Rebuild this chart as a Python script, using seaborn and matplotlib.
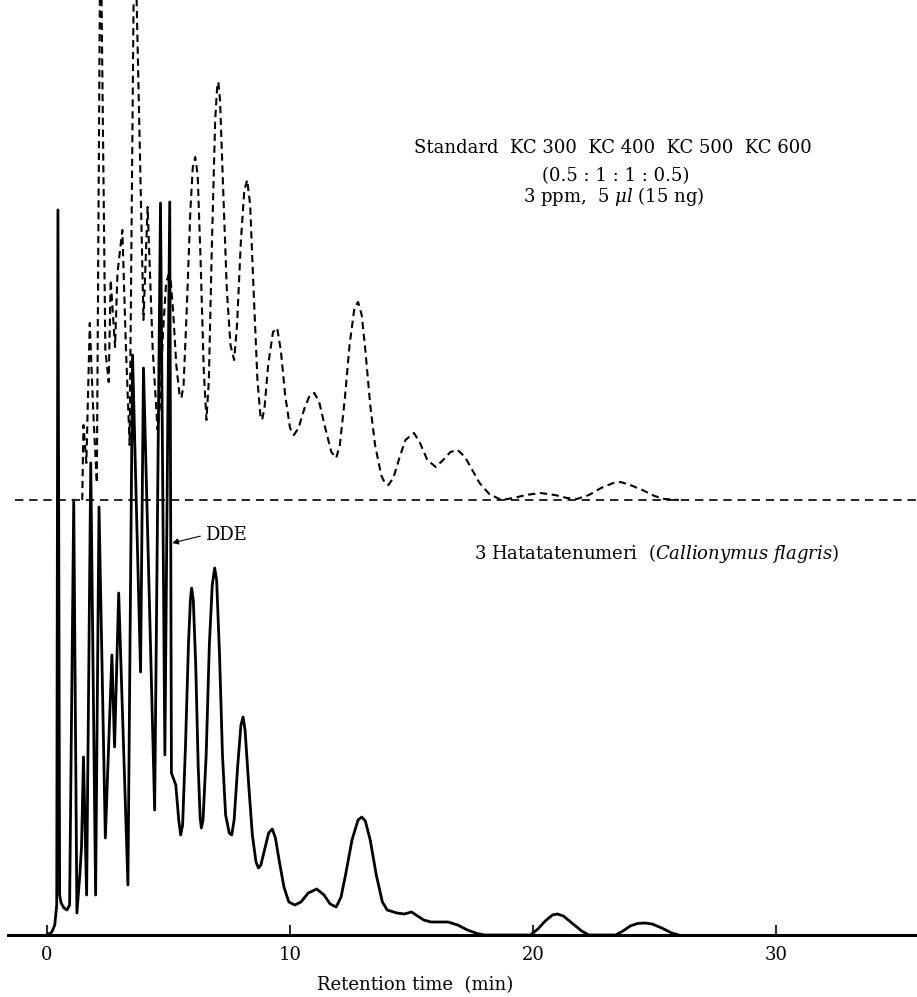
import matplotlib
matplotlib.use("Agg")
import matplotlib.pyplot as plt
import pandas as pd
import seaborn as sns


# ----------------------------------
# Data
# (response in arbitrary units, retention time in min)
# ----------------------------------

# sample: 3 Hatatatenumeri, solid trace
sample_time = [
    0.0, 0.2, 0.32, 0.40, 0.45, 0.52, 0.58, 0.7, 0.82, 0.93,
    1.1, 1.23, 1.35, 1.42, 1.5, 1.63, 1.8, 2.0, 2.14, 2.4,
    2.67, 2.78, 2.95, 3.33, 3.52, 3.85, 3.97, 4.43, 4.67, 4.85,
    5.05, 5.12, 5.3, 5.42, 5.5, 5.58, 5.7, 5.82, 5.9, 5.95,
    6.02, 6.12, 6.22, 6.3, 6.35, 6.42, 6.55, 6.68, 6.8, 6.9,
    6.98, 7.1, 7.22, 7.35, 7.5, 7.6, 7.7, 7.85, 7.98, 8.07,
    8.15, 8.3, 8.45, 8.6, 8.7, 8.8, 8.95, 9.12, 9.27, 9.4,
    9.55, 9.75, 9.95, 10.2, 10.45, 10.75, 11.1, 11.4, 11.65, 11.9,
    12.1, 12.3, 12.55, 12.8, 12.95, 13.1, 13.3, 13.55, 13.8, 14.0,
    14.4, 14.7, 15.0, 15.25, 15.5, 15.8, 16.5, 16.9, 17.3, 17.7,
    18.0, 19.9, 20.2, 20.5, 20.8, 21.0, 21.25, 21.6, 22.0, 22.3,
    23.4, 23.7, 24.0, 24.3, 24.6, 24.9, 25.3, 25.7, 26.0,
]
sample_resp = [
    0, 3, 10, 30, 725, 40, 32, 27, 25, 30,
    435, 22, 60, 88, 178, 40, 472, 40, 428, 97,
    280, 188, 342, 50, 580, 263, 567, 125, 732, 180,
    733, 162, 150, 115, 100, 110, 190, 290, 335, 347,
    335, 270, 170, 118, 107, 115, 180, 290, 350, 367,
    355, 280, 180, 120, 102, 100, 115, 170, 210, 218,
    205, 150, 100, 73, 67, 70, 85, 102, 106, 97,
    75, 48, 33, 30, 33, 42, 46, 40, 31, 28,
    38, 62, 95, 115, 118, 114, 95, 60, 33, 25,
    22, 21, 23, 19, 15, 13, 13, 10, 5, 1.5,
    0, 0, 6, 14, 20, 21, 19, 12, 4, 0,
    0, 4, 9, 11.5, 12, 11, 7, 2, 0,
]

# standard KC 300 / 400 / 500 / 600, dashed trace (own baseline)
std_time = [
    1.45, 1.5, 1.62, 1.76, 1.9, 2.05, 2.2, 2.4, 2.54, 2.62,
    2.8, 2.9, 3.1, 3.25, 3.4, 3.6, 3.97, 4.14, 4.35, 4.55,
    4.65, 4.78, 4.9, 5.0, 5.08, 5.2, 5.32, 5.45, 5.53, 5.62,
    5.75, 5.9, 6.0, 6.1, 6.2, 6.32, 6.45, 6.56, 6.66, 6.78,
    6.92, 7.0, 7.05, 7.12, 7.25, 7.4, 7.55, 7.7, 7.82, 7.98,
    8.12, 8.24, 8.36, 8.5, 8.66, 8.78, 8.85, 8.95, 9.1, 9.3,
    9.47, 9.62, 9.8, 10.0, 10.16, 10.35, 10.6, 10.8, 11.0, 11.2,
    11.45, 11.7, 11.9, 12.05, 12.25, 12.45, 12.65, 12.8, 12.95, 13.1,
    13.3, 13.5, 13.75, 13.9, 14.05, 14.25, 14.5, 14.75, 15.1, 15.35,
    15.65, 16.0, 16.3, 16.6, 16.9, 17.2, 17.5, 17.8, 18.2, 18.7,
    19.2, 19.7, 20.3, 20.9, 21.4, 21.8, 22.3, 22.8, 23.3, 23.6,
    24.0, 24.5, 25.0, 25.4, 26.0,
]
std_resp = [
    0, 75, 37, 177, 90, 17, 600, 150, 118, 220,
    153, 227, 270, 150, 55, 600, 180, 293, 150, 70,
    95, 170, 217, 225, 223, 185, 135, 106, 102, 115,
    190, 290, 333, 343, 325, 240, 130, 80, 120, 250,
    380, 412, 418, 400, 310, 210, 155, 140, 175, 260,
    310, 320, 295, 210, 120, 85, 80, 92, 135, 168,
    172, 150, 105, 72, 65, 72, 92, 104, 107, 98,
    72, 48, 42, 55, 100, 155, 192, 198, 185, 150,
    95, 55, 25, 17, 15, 22, 42, 60, 67, 57,
    40, 33, 40, 48, 50, 43, 30, 17, 6, 0,
    2, 5, 7, 5, 2, 1, 5, 12, 17, 18,
    15, 10, 4, 1, 0,
]

tick_values = [0, 10, 20, 30]
tick_labels = ["0", "10", "20", "30"]


# ----------------------------------
# Style
# ----------------------------------

sns.set_style("white")
plt.rcParams["font.family"] = ["DejaVu Serif"]
plt.rcParams["mathtext.fontset"] = "dejavuserif"
plt.rcParams["text.color"] = "black"
plt.rcParams["axes.labelcolor"] = "black"
plt.rcParams["xtick.color"] = "black"

STD_BASELINE = 435  # the standard trace is drawn above the sample

sample_df = pd.DataFrame({"time": sample_time, "resp": sample_resp})
std_df = pd.DataFrame({"time": std_time, "resp": std_resp})
std_df["shifted"] = std_df["resp"] + STD_BASELINE


# ----------------------------------
# Plot
# ----------------------------------

fig = plt.figure(figsize=(9.17, 9.97), dpi=100)
ax = fig.add_axes([8 / 917, 62 / 997, 909 / 917, 935 / 997])

sns.lineplot(
    data=sample_df, x="time", y="resp", ax=ax,
    color="black", linewidth=2.0, estimator=None, sort=False
)

sns.lineplot(
    data=std_df, x="time", y="shifted", ax=ax,
    color="black", linewidth=1.5, linestyle=(0, (3.5, 2.2)),
    estimator=None, sort=False
)

ax.axhline(
    STD_BASELINE, xmin=0.008, xmax=1.0,
    color="black", linewidth=1.2, linestyle=(0, (5, 3.5))
)

ax.set_xlim(-1.605, 35.8)
ax.set_ylim(0, 935)

sns.despine(ax=ax, left=True)
ax.spines["bottom"].set_linewidth(2.2)
ax.spines["bottom"].set_color("black")
ax.set_yticks([])
ax.set_ylabel("")

ax.set_xticks(tick_values)
ax.set_xticklabels(tick_labels)
ax.tick_params(
    axis="x", bottom=True, direction="in",
    length=7, width=1.2, pad=8, labelsize=13, colors="black"
)

ax.set_xlabel("Retention time  (min)", fontsize=13)
ax.xaxis.set_label_coords(0.448, -0.044)


# ----------------------------------
# Annotations
# ----------------------------------

ax.text(23.3, 782, "Standard  KC 300  KC 400  KC 500  KC 600",
        ha="center", va="baseline", fontsize=13)
ax.text(23.4, 754, "(0.5 : 1 : 1 : 0.5)",
        ha="center", va="baseline", fontsize=13)
ax.text(23.3, 733, r"3 ppm,  5 $\mathit{\mu l}$ (15 ng)",
        ha="center", va="baseline", fontsize=13)

ax.text(25.1, 376, r"3 Hatatatenumeri  ($\mathit{Callionymus\ flagris}$)",
        ha="center", va="baseline", fontsize=13)

ax.annotate(
    "DDE", xy=(5.15, 392), xytext=(6.5, 395),
    ha="left", va="baseline", fontsize=13,
    arrowprops=dict(
        arrowstyle="-|>", color="black", lw=0.8,
        shrinkA=1, shrinkB=0, mutation_scale=9,
        relpos=(0, 0.5)
    )
)

fig.savefig("out.png", dpi=100)
